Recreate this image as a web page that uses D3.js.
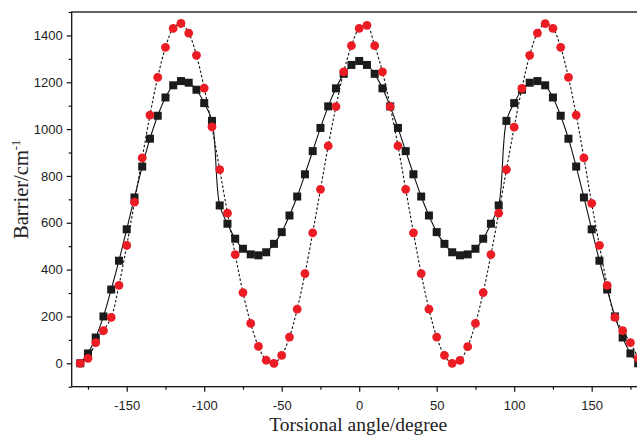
<!DOCTYPE html>
<html>
<head>
<meta charset="utf-8">
<script src="https://cdn.jsdelivr.net/npm/d3@7"></script>
<style>
	body { margin: 0; background: #fff; }
</style>
</head>
<body>
<div class="chart"></div>
<script>

const angles = [-180, -175, -170, -165, -160, -155, -150, -145, -140, -135, -130, -125, -120, -115, -110, -105, -100, -95, -90, -85, -80, -75, -70, -65, -60, -55, -50, -45, -40, -35, -30, -25, -20, -15, -10, -5, 0, 5, 10, 15, 20, 25, 30, 35, 40, 45, 50, 55, 60, 65, 70, 75, 80, 85, 90, 95, 100, 105, 110, 115, 120, 125, 130, 135, 140, 145, 150, 155, 160, 165, 170, 175, 180];

// black squares, solid line
const barrierSquares = [0, 42, 110, 200, 315, 438, 572, 708, 840, 959, 1057, 1135, 1187, 1205, 1198, 1168, 1111, 1035, 674, 596, 532, 489, 465, 461, 474, 510, 560, 631, 712, 807, 906, 1005, 1097, 1174, 1236, 1274, 1291, 1274, 1236, 1174, 1097, 1005, 906, 807, 712, 631, 560, 510, 474, 461, 465, 489, 532, 596, 674, 1035, 1111, 1168, 1198, 1205, 1187, 1135, 1057, 959, 840, 708, 572, 438, 315, 200, 110, 42, 0];

// red circles, dotted line
const barrierCircles = [0, 21, 88, 139, 196, 333, 503, 688, 877, 1060, 1221, 1349, 1430, 1451, 1410, 1315, 1175, 1009, 827, 641, 464, 302, 170, 72, 13, 0, 34, 112, 231, 383, 557, 743, 928, 1096, 1244, 1356, 1430, 1443, 1356, 1244, 1096, 928, 743, 557, 383, 231, 112, 34, 0, 12, 71, 170, 302, 464, 641, 827, 1008, 1174, 1315, 1410, 1450, 1430, 1349, 1221, 1060, 877, 683, 503, 333, 196, 139, 88, 21];

const xTicks = [-150, -100, -50, 0, 50, 100, 150];
const xMinorTicks = [-175, -125, -75, -25, 25, 75, 125, 175];
const yTicks = [0, 200, 400, 600, 800, 1000, 1200, 1400];
const yMinorTicks = [-100, 100, 300, 500, 700, 900, 1100, 1300, 1500];

const width = 637;
const height = 437;
const plotLeft = 71.7;
const plotRight = 646.7;
const plotTop = 12;
const plotBottom = 386.7;
const sansFont = "'Liberation Sans', Arial, sans-serif";
const serifFont = "'Liberation Serif', 'Times New Roman', serif";

const svg = d3.select('.chart').append('svg')
	.attr('width', width)
	.attr('height', height);

const x = d3.scaleLinear().domain([-185.5, 185.5]).range([plotLeft, plotRight]);
const y = d3.scaleLinear().domain([-100, 1500]).range([plotBottom, plotTop]);

const points = angles.map(function(a, i) {
	return { angle: a, sq: barrierSquares[i], ci: barrierCircles[i] };
});

// frame
svg.append('rect')
	.attr('x', plotLeft)
	.attr('y', plotTop)
	.attr('width', plotRight - plotLeft)
	.attr('height', plotBottom - plotTop)
	.attr('fill', 'none')
	.attr('stroke', '#111')
	.attr('stroke-width', 1.3);

// axes
function plainNumber(d) {
	return String(d);
}

const xAxis = d3.axisBottom(x).tickValues(xTicks).tickSize(5).tickFormat(plainNumber);
const xAxisMinor = d3.axisBottom(x).tickValues(xMinorTicks).tickSize(3).tickFormat('');
const yAxis = d3.axisLeft(y).tickValues(yTicks).tickSize(5).tickFormat(plainNumber);
const yAxisMinor = d3.axisLeft(y).tickValues(yMinorTicks).tickSize(3).tickFormat('');

function styleAxis(g) {
	g.attr('font-family', sansFont).attr('font-size', 13);
	g.select('.domain').remove();
	g.selectAll('line').attr('stroke', '#111').attr('stroke-width', 1.2);
	g.selectAll('text').attr('fill', '#222');
}

svg.append('g').attr('transform', `translate(0,${plotBottom})`).call(xAxis).call(styleAxis)
	.selectAll('text').attr('dy', '1.15em');
svg.append('g').attr('transform', `translate(0,${plotBottom})`).call(xAxisMinor).call(styleAxis);
svg.append('g').attr('transform', `translate(${plotLeft},0)`).call(yAxis).call(styleAxis)
	.selectAll('text').attr('x', -9);
svg.append('g').attr('transform', `translate(${plotLeft},0)`).call(yAxisMinor).call(styleAxis);

// lines
const lineSquares = d3.line()
	.x(function(d) { return x(d.angle); })
	.y(function(d) { return y(d.sq); })
	.curve(d3.curveCatmullRom);

const lineCircles = d3.line()
	.x(function(d) { return x(d.angle); })
	.y(function(d) { return y(d.ci); })
	.curve(d3.curveCatmullRom);

svg.append('path')
	.datum(points)
	.attr('d', lineSquares)
	.attr('fill', 'none')
	.attr('stroke', '#111')
	.attr('stroke-width', 1.1);

svg.append('path')
	.datum(points)
	.attr('d', lineCircles)
	.attr('fill', 'none')
	.attr('stroke', '#111')
	.attr('stroke-width', 1.1)
	.attr('stroke-dasharray', '2.5,2');

// markers
svg.selectAll('.squares')
	.data(points)
	.enter()
	.append('rect')
	.attr('x', function(d) { return x(d.angle) - 4; })
	.attr('y', function(d) { return y(d.sq) - 4; })
	.attr('width', 8)
	.attr('height', 8)
	.attr('fill', '#1b1b1b')
	.attr('class', 'squares');

svg.selectAll('.circles')
	.data(points)
	.enter()
	.append('circle')
	.attr('cx', function(d) { return x(d.angle); })
	.attr('cy', function(d) { return y(d.ci); })
	.attr('r', 4.4)
	.attr('fill', '#ec1c24')
	.attr('class', 'circles');

// titles
svg.append('text')
	.attr('font-family', serifFont)
	.attr('font-size', 19.5)
	.attr('fill', '#222')
	.attr('x', (plotLeft + plotRight) / 2 - 1)
	.attr('y', 431)
	.attr('text-anchor', 'middle')
	.text('Torsional angle/degree');

const yTitle = svg.append('text')
	.attr('font-family', serifFont)
	.attr('font-size', 20.5)
	.attr('fill', '#222')
	.attr('transform', `translate(28,${(plotTop + plotBottom) / 2 - 10}) rotate(-90)`)
	.attr('text-anchor', 'middle');
yTitle.append('tspan').text('Barrier/cm');
yTitle.append('tspan').attr('dy', -8).attr('font-size', 12.5).text('-1');

</script>
</body>
</html>
